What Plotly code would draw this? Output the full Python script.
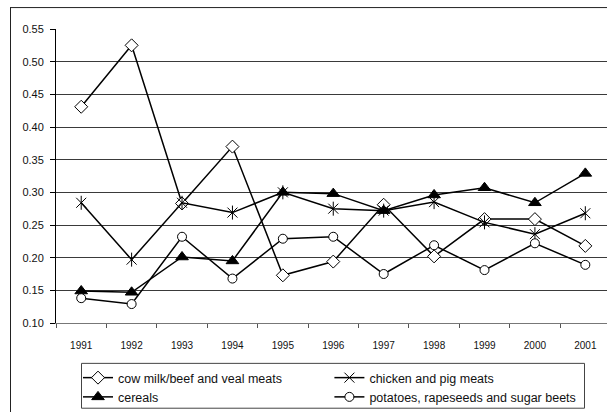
import plotly.graph_objects as go

years = ["1991", "1992", "1993", "1994", "1995", "1996", "1997", "1998", "1999", "2000", "2001"]
cow_milk_beef_veal = [0.431, 0.525, 0.283, 0.370, 0.173, 0.194, 0.281, 0.202, 0.259, 0.259, 0.218]
chicken_pig = [0.284, 0.197, 0.284, 0.269, 0.300, 0.275, 0.272, 0.285, 0.254, 0.236, 0.268]
cereals = [0.149, 0.147, 0.201, 0.195, 0.300, 0.298, 0.272, 0.296, 0.307, 0.284, 0.329]
potatoes_rapeseeds_sugar = [0.138, 0.129, 0.232, 0.168, 0.229, 0.232, 0.175, 0.219, 0.181, 0.222, 0.189]
y_ticks = [0.10, 0.15, 0.20, 0.25, 0.30, 0.35, 0.40, 0.45, 0.50, 0.55]

W, H = 607, 412
L, R, T, B = 56, 0, 29, 88
pw, ph = W - L - R, H - T - B


def px(xp):
    return (xp - L) / pw


def py(yp):
    return (H - B - yp) / ph


line = dict(color="black", width=1.5)
fig = go.Figure()
fig.add_trace(go.Scatter(x=years, y=cow_milk_beef_veal, name="cow milk/beef and veal meats",
                         mode="lines+markers", line=line,
                         marker=dict(symbol="diamond", size=10, color="white", line=dict(color="black", width=1))))
fig.add_trace(go.Scatter(x=years, y=chicken_pig, name="chicken and pig meats",
                         mode="lines+markers", line=line,
                         marker=dict(symbol="x-thin-open", size=10, color="black", line=dict(color="black", width=1))))
fig.add_trace(go.Scatter(x=years, y=chicken_pig, showlegend=False, hoverinfo="skip",
                         mode="markers",
                         marker=dict(symbol="line-ns-open", size=10, color="black", line=dict(color="black", width=1))))
fig.add_trace(go.Scatter(x=years, y=cereals, name="cereals",
                         mode="lines+markers", line=line,
                         marker=dict(symbol="triangle-up", size=11, color="black", line=dict(color="black", width=1))))
fig.add_trace(go.Scatter(x=years, y=potatoes_rapeseeds_sugar, name="potatoes, rapeseeds and sugar beets",
                         mode="lines+markers", line=line,
                         marker=dict(symbol="circle", size=9, color="white", line=dict(color="black", width=1))))

fig.update_layout(
    width=W, height=H,
    margin=dict(l=L, r=R, t=T, b=B),
    paper_bgcolor="white", plot_bgcolor="white",
    font=dict(family="Liberation Sans, Arial, sans-serif", size=10, color="black"),
    xaxis=dict(type="category", range=[-0.5, 10.43], tickson="boundaries",
               ticks="outside", ticklen=4, tickcolor="#555", showgrid=False,
               showline=True, linecolor="#777", linewidth=1, ticklabelstandoff=13,
               tickfont=dict(size=10, color="#111")),
    yaxis=dict(range=[0.10, 0.55], tickvals=y_ticks, ticktext=[f"{v:.2f}" for v in y_ticks],
               ticks="outside", ticklen=5, tickcolor="black", ticklabelstandoff=4,
               showgrid=True, gridcolor="#3a3a3a", gridwidth=1,
               showline=True, linecolor="black", linewidth=1, zeroline=False,
               tickfont=dict(size=11, color="#111")),
    legend=dict(orientation="h", x=px(78), y=py(364),
                xanchor="left", yanchor="top",
                borderwidth=0, bgcolor="rgba(0,0,0,0)",
                itemwidth=30,
                font=dict(size=12.5, color="#111"), traceorder="normal"),
    shapes=[
        # outer chart frame (top and left edges; right/bottom fall outside the picture)
        dict(type="line", xref="paper", yref="paper",
             x0=px(10), x1=1.1, y0=py(7.5), y1=py(7.5),
             line=dict(color="#222", width=1)),
        dict(type="line", xref="paper", yref="paper",
             x0=px(10.5), x1=px(10.5), y0=-0.5, y1=py(7.5),
             line=dict(color="#222", width=1)),
        # legend box
        dict(type="rect", xref="paper", yref="paper",
             x0=px(81.5), x1=px(584.5), y0=py(409.5), y1=py(364.5),
             line=dict(color="#444", width=1), layer="below"),
    ],
)

fig.write_html("out.html", config={"displayModeBar": False},
               post_script="document.body.style.margin='0';document.body.style.overflow='hidden';")
